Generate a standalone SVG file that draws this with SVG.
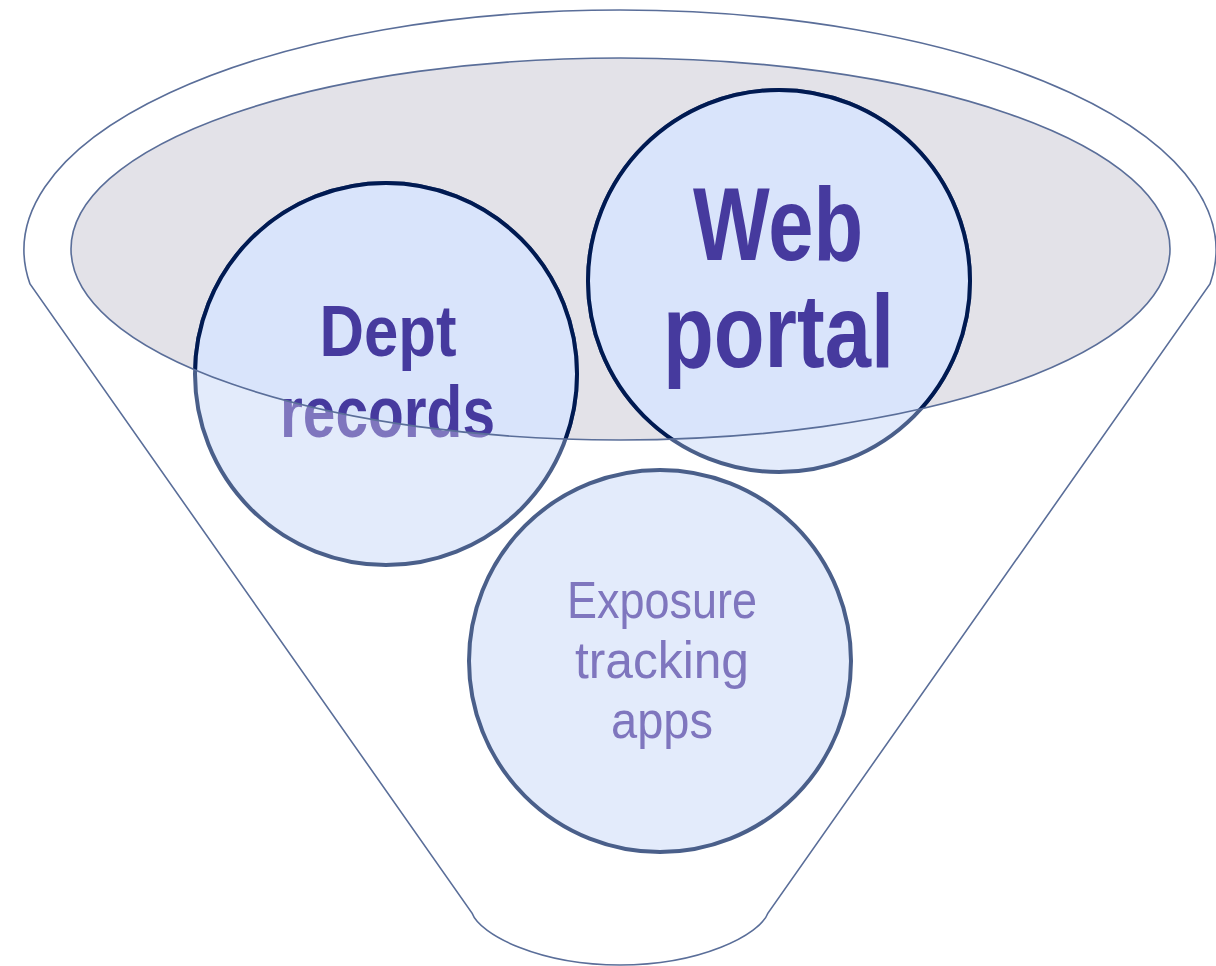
<svg xmlns="http://www.w3.org/2000/svg" width="1216" height="966" viewBox="0 0 1216 966">
<style>
.funnel{fill:#ffffff;stroke:#5a6e99;stroke-width:1.6}
.bowl{fill:#e3e2e8;stroke:none}
.rim{fill:none;stroke:#5a6e99;stroke-width:1.6}
.faded circle{fill:#e3ebfb;stroke:#4a5f8a;stroke-width:4}
.full circle{fill:#d9e4fb;stroke:#001a52;stroke-width:4}
.faded text{fill:#7f76be}
.full text{fill:#463a9e}
text{font-family:"Liberation Sans Narrow","Liberation Sans",Arial,sans-serif;text-anchor:middle}
.b{font-weight:bold}
</style>
<defs>
<clipPath id="inner"><ellipse cx="620.5" cy="249" rx="549.5" ry="191"/></clipPath>
</defs>
<g id="funnel">
<path class="funnel" d="M30,284 A596,240 0 1 1 1210,284 L768,913 C760,935 700,965 620,965 C540,965 480,935 472,913 Z"/>
<ellipse class="bowl" cx="620.5" cy="249" rx="549.5" ry="191"/>
</g>
<g id="dept">
<g class="faded">
<circle cx="386" cy="374" r="191"/>
<text class="b" x="388" y="356" font-size="73" textLength="137" lengthAdjust="spacingAndGlyphs">Dept</text>
<text class="b" x="387.5" y="437" font-size="73" textLength="215" lengthAdjust="spacingAndGlyphs">records</text>
</g>
<g class="full" clip-path="url(#inner)">
<circle cx="386" cy="374" r="191"/>
<text class="b" x="388" y="356" font-size="73" textLength="137" lengthAdjust="spacingAndGlyphs">Dept</text>
<text class="b" x="387.5" y="437" font-size="73" textLength="215" lengthAdjust="spacingAndGlyphs">records</text>
</g>
</g>
<g id="web">
<g class="faded">
<circle cx="779" cy="281" r="191"/>
<text class="b" x="778" y="260" font-size="103" textLength="170" lengthAdjust="spacingAndGlyphs">Web</text>
<text class="b" x="778.5" y="367" font-size="103" textLength="231" lengthAdjust="spacingAndGlyphs">portal</text>
</g>
<g class="full" clip-path="url(#inner)">
<circle cx="779" cy="281" r="191"/>
<text class="b" x="778" y="260" font-size="103" textLength="170" lengthAdjust="spacingAndGlyphs">Web</text>
<text class="b" x="778.5" y="367" font-size="103" textLength="231" lengthAdjust="spacingAndGlyphs">portal</text>
</g>
</g>
<g id="exposure">
<g class="faded">
<circle cx="660" cy="661" r="191"/>
<text x="662" y="618" font-size="52" textLength="190" lengthAdjust="spacingAndGlyphs">Exposure</text>
<text x="662" y="678" font-size="52" textLength="174" lengthAdjust="spacingAndGlyphs">tracking</text>
<text x="662" y="738" font-size="52" textLength="102" lengthAdjust="spacingAndGlyphs">apps</text>
</g>
</g>
<g id="connectors">
<ellipse class="rim" cx="620.5" cy="249" rx="549.5" ry="191"/>
</g>
</svg>
